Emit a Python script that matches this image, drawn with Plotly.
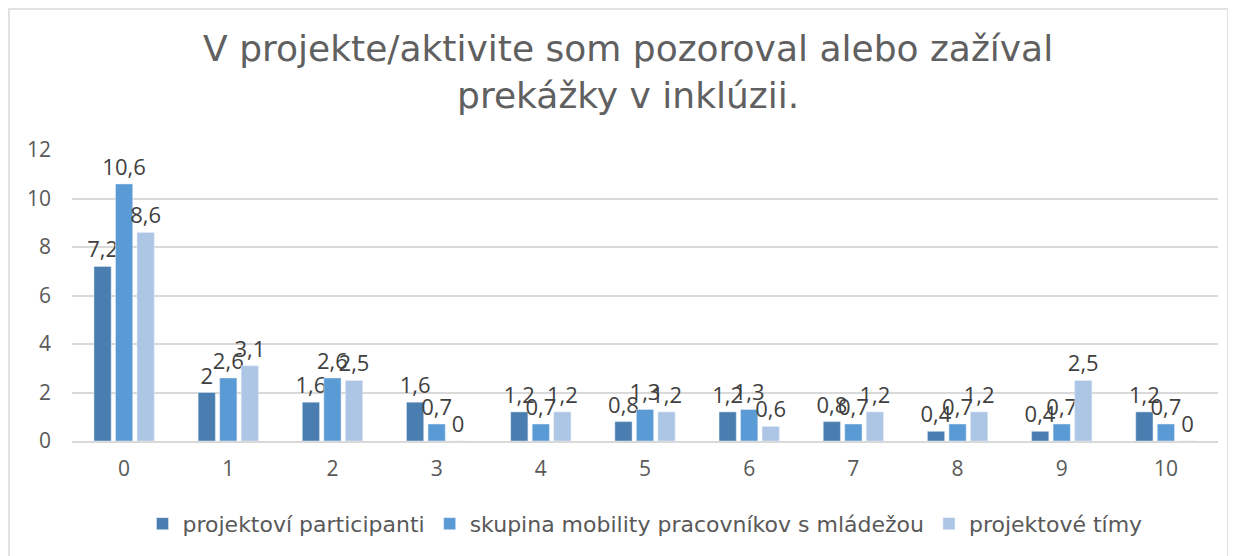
import plotly.graph_objects as go

categories = ["0", "1", "2", "3", "4", "5", "6", "7", "8", "9", "10"]
participanti = [7.2, 2, 1.6, 1.6, 1.2, 0.8, 1.2, 0.8, 0.4, 0.4, 1.2]
mobilita = [10.6, 2.6, 2.6, 0.7, 0.7, 1.3, 1.3, 0.7, 0.7, 0.7, 0.7]
timy = [8.6, 3.1, 2.5, 0, 1.2, 1.2, 0.6, 1.2, 1.2, 2.5, 0]
series_names = ["projektoví participanti", "skupina mobility pracovníkov s mládežou", "projektové tímy"]
colors = ["#4A7EB0", "#5B9BD5", "#ADC6E5"]
y_ticks = [0, 2, 4, 6, 8, 10, 12]


def fmt(v):
    return ("%g" % v).replace(".", ",")


wide_font = "DejaVu Sans, sans-serif"
num_font = "Open Sans, Noto Sans, sans-serif"
grey = "#595959"

fig = go.Figure()
for name, vals, col in zip(series_names, [participanti, mobilita, timy], colors):
    fig.add_trace(go.Bar(
        x=categories, y=vals, name=name, marker_color=col,
        text=[fmt(v) for v in vals], textposition="outside",
        constraintext="none",
        textfont=dict(size=22, color="#404040", family=num_font), cliponaxis=False,
    ))

# page body has an 8px margin, so the figure is offset by 8px in the window
fig.update_layout(
    width=1228, height=548,
    margin=dict(l=64, r=18, t=142, b=115, autoexpand=False),
    paper_bgcolor="white", plot_bgcolor="white",
    barmode="group", bargap=0.38, bargroupgap=0.2,
    font=dict(family=num_font, color=grey, size=20),
    title=dict(text="V projekte/aktivite som pozoroval alebo zažíval<br>prekážky v inklúzii.",
               x=0.505, xanchor="center", y=0.903, yanchor="middle",
               font=dict(size=36, color="#606060", family=wide_font)),
    showlegend=True,
    legend=dict(orientation="h", x=0.5, xanchor="center", y=-0.2125, yanchor="top",
                font=dict(size=22, color=grey, family=wide_font), traceorder="normal",
                itemwidth=30),
)
fig.update_yaxes(range=[0, 12], tickvals=y_ticks, showgrid=True, gridcolor="#D9D9D9",
                 gridwidth=1.5, zeroline=False, showline=False, ticks="",
                 tickfont=dict(size=21, color=grey, family=num_font), ticklabelstandoff=20)
fig.update_xaxes(showline=True, linecolor="#D9D9D9", linewidth=1.5, ticks="",
                 tickfont=dict(size=21, color=grey, family=num_font), ticklabelstandoff=8)
fig.add_shape(type="rect", xref="paper", yref="paper", x0=-0.055, x1=1.0087,
              y0=-0.45, y1=1.4845, line=dict(color="#D9D9D9", width=1.5), layer="below")
fig.write_html("out.html")
